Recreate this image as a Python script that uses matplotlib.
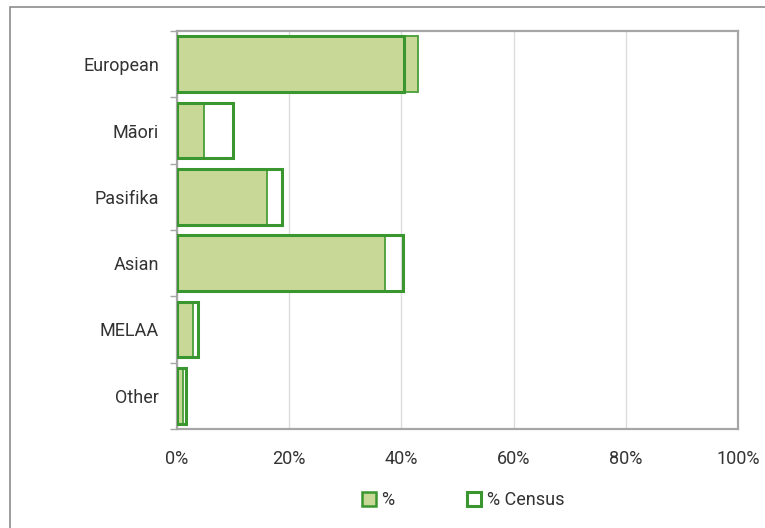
import matplotlib.pyplot as plt
from matplotlib.patches import Patch, Rectangle

categories = ['European', 'Māori', 'Pasifika', 'Asian', 'MELAA', 'Other']
pct = [43.0, 4.8, 16.0, 37.1, 2.9, 1.1]
pct_census = [40.5, 10.0, 18.7, 40.3, 3.7, 1.6]

fill_col = '#c8d897'
edge_col = '#3a962e'
grey = '#a6a6a6'

plt.rcParams['font.family'] = ['Roboto', 'DejaVu Sans']

fig = plt.figure(figsize=(7.65, 5.28), dpi=100)
ax = fig.add_axes([177/765, 1 - 429/528, (738 - 177)/765, (429 - 31)/528])

# outer frame (top + left only visible)
fig.patches.append(Rectangle((10/765, -0.1), 1.2, 1 - 7/528 + 0.1,
                             transform=fig.transFigure, fill=False,
                             edgecolor='#8c8c8c', lw=1.2))

y = list(range(len(categories)))
ax.barh(y, pct, height=0.84, color=fill_col, edgecolor='#4a9e38', lw=1.3, zorder=2)
ax.barh(y, pct_census, height=0.84, fill=False, edgecolor=edge_col, lw=2.2, zorder=3)

ax.set_xlim(0, 100)
ax.set_ylim(len(categories) - 0.5, -0.5)
ax.set_xticks(range(0, 101, 20))
ax.set_xticklabels([f'{v}%' for v in range(0, 101, 20)])
ax.set_yticks(y)
ax.set_yticklabels(categories)
ax.set_yticks([i - 0.5 for i in range(len(categories) + 1)], minor=True)

ax.tick_params(axis='y', which='major', length=0, pad=13, labelsize=13, labelcolor='#333333')
ax.tick_params(axis='y', which='minor', length=5, color=grey, width=1)
ax.tick_params(axis='x', length=0, pad=15, labelsize=13, labelcolor='#333333')

ax.grid(axis='x', color='#dddddd', lw=1, zorder=0)
ax.set_axisbelow(True)
for s in ax.spines.values():
    s.set_color(grey)
    s.set_linewidth(1.6)

handles = [Patch(facecolor=fill_col, edgecolor=edge_col, lw=1.8, label='%'),
           Patch(facecolor='white', edgecolor=edge_col, lw=2.2, label='% Census')]
fig.legend(handles=handles, loc='center', bbox_to_anchor=(463/765, 1 - 500/528),
           ncol=2, frameon=False, fontsize=13, handlelength=0.8, handleheight=0.8,
           handletextpad=0.3, columnspacing=4.0, labelcolor='#333333')

fig.savefig('out.png', dpi=100)
